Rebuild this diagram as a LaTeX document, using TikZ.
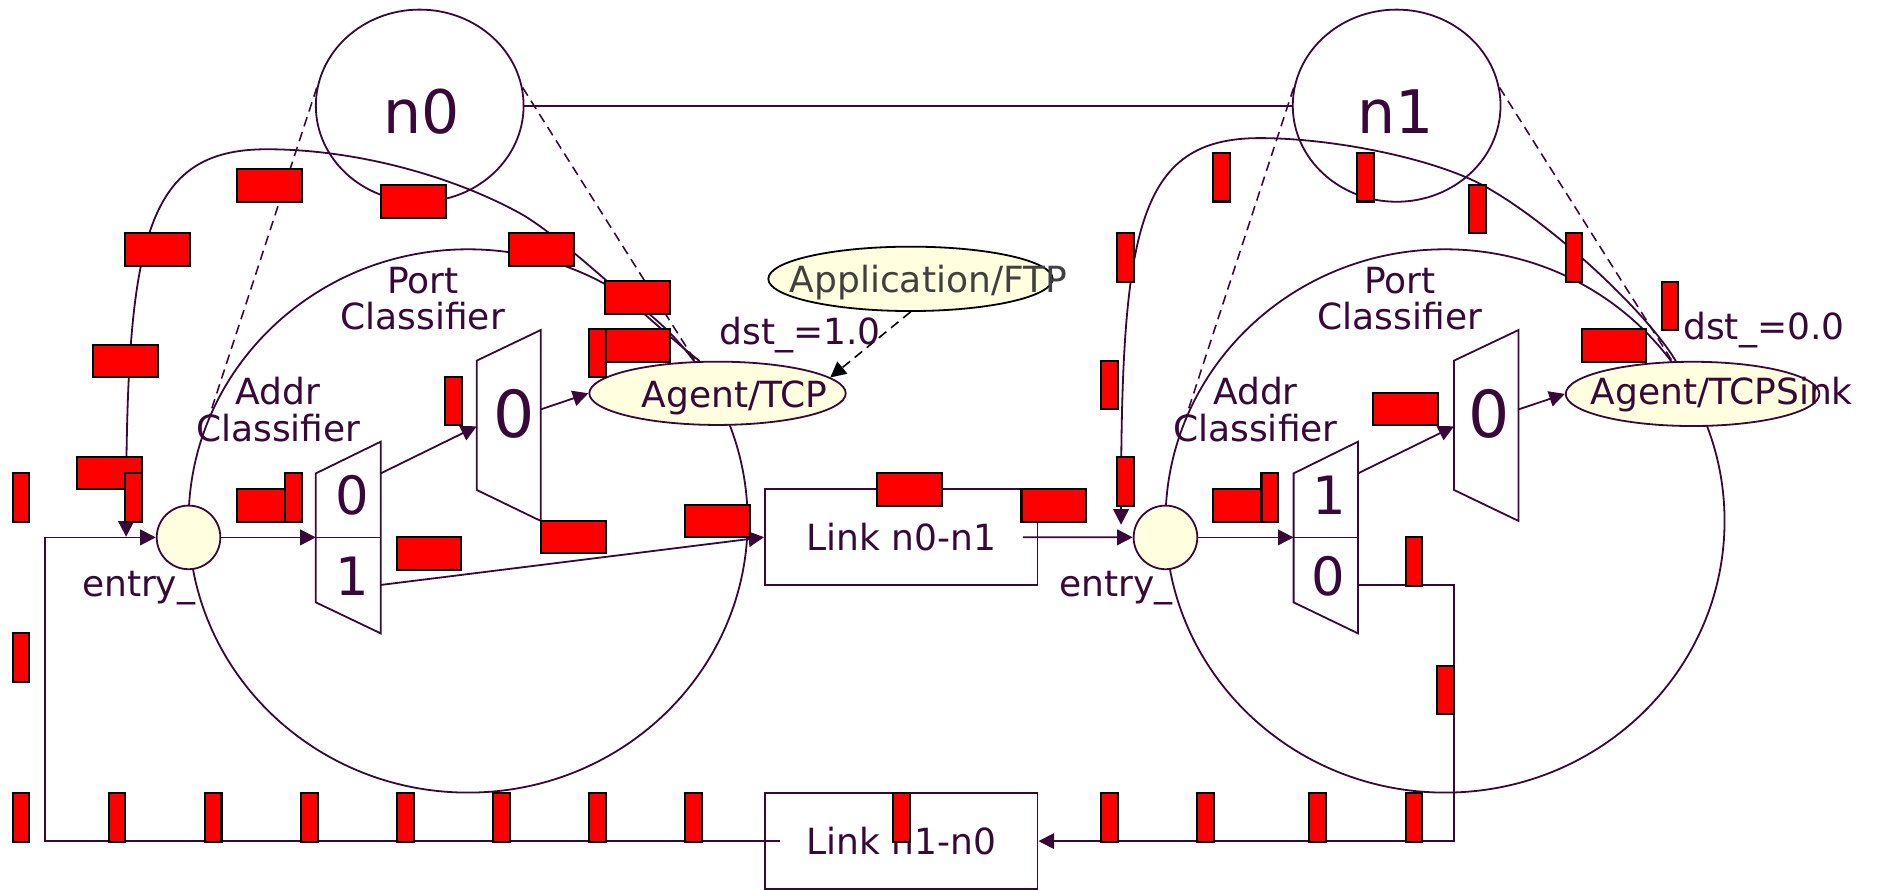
\documentclass[tikz,border=0pt]{standalone}
\usepackage{fontspec}
\setmainfont{DejaVu Sans}
\usetikzlibrary{shapes.geometric,arrows.meta}
\definecolor{ink}{HTML}{380838}
\definecolor{cream}{HTML}{FFFFE0}
\definecolor{pktred}{HTML}{FF0000}
\definecolor{ftpgray}{HTML}{404040}

\begin{document}
\begin{tikzpicture}[x=1pt,y=-1pt,color=ink,line width=1.5pt,
  >={Triangle[length=13pt,width=13pt]},
  lbl/.style={font=\fontsize{30}{30.5}\selectfont,inner sep=0pt},
  digit/.style={font=\fontsize{44}{44}\selectfont,inner sep=0pt},
  bigdigit/.style={font=\fontsize{54}{54}\selectfont,inner sep=0pt},
  nodename/.style={font=\fontsize{50}{50}\selectfont,inner sep=0pt},
  oval/.style={draw,ellipse,inner sep=0pt},
  bubble/.style={draw,ellipse,fill=cream,inner sep=0pt},
  entrydot/.style={draw,circle,fill=cream,minimum size=53pt,inner sep=0pt},
  linkbox/.style={draw,lbl,minimum width=227pt,minimum height=79.6pt},
  zoomline/.style={dash pattern=on 8pt off 5pt,line width=1.3pt},
  pktw/.style={draw=black,fill=pktred,line width=1.7pt,minimum width=53.8pt,minimum height=26.9pt,inner sep=0pt},
  pktn/.style={draw=black,fill=pktred,line width=1.7pt,minimum width=13.9pt,minimum height=40.2pt,inner sep=0pt},
]
\useasboundingbox (0,0) rectangle (1568,741);
% nodes and their insides
\node[oval,minimum width=173pt,minimum height=160pt] (n0) at (349.5,88) {};
\node[oval,minimum width=173pt,minimum height=160pt] (n1) at (1163,88) {};
\node[nodename,anchor=base] (n0txt) at (350.7,111) {n0};
\node[nodename,anchor=base] (n1txt) at (1162.5,111) {n1};
\node[oval,minimum width=465.5pt,minimum height=452.4pt] (pc0) at (389.8,433.8) {};
\node[oval,minimum width=465.5pt,minimum height=452.4pt] (pc1) at (1203.3,433.8) {};
% zoom lines
\draw[zoomline] (n0.170) -- (pc0.158);
\draw[zoomline] (n0.10) -- (pc0.35);
\draw[zoomline] (n1.170) -- (pc1.158);
\draw[zoomline] (n1.10) -- (pc1.35);
\draw (n0) -- (n1);
% classifiers
\draw (263,394.2) -- (317,367.8) -- (317,527.4) -- (263,501.6) -- cycle;
\draw (263,447.5) -- (317,447.5);
\draw (397,300.3) -- (450.3,274.8) -- (450.3,433.8) -- (397,408) -- cycle;
\draw (1077.2,394.2) -- (1130.8,367.8) -- (1130.8,527.4) -- (1077.2,501.6) -- cycle;
\draw (1077.2,447.5) -- (1130.8,447.5);
\draw (1210.8,300.3) -- (1264.5,274.8) -- (1264.5,433.8) -- (1210.8,408) -- cycle;
\coordinate (ac0in) at (263,447.5);
\coordinate (ac0o0) at (317,394.2);
\coordinate (ac0o1) at (317,487.1);
\coordinate (pt0in) at (397,355);
\coordinate (pt0o) at (450.3,340.9);
\coordinate (ac1in) at (1077.2,447.5);
\coordinate (ac1o1) at (1130.8,394.2);
\coordinate (ac1o0) at (1130.8,487.1);
\coordinate (pt1in) at (1210.8,355);
\coordinate (pt1o) at (1264.5,340.9);
\coordinate (ret0) at (37.5,447.5);
\coordinate (drop0) at (105,447);
\coordinate (drop1) at (933.5,437);
% entries, agents, links
\node[entrydot] (entry0) at (157,447.5) {};
\node[entrydot] (entry1) at (970.5,447.5) {};
\node[bubble,minimum width=213.5pt,minimum height=52.7pt] (agent0) at (597.5,327.5) {};
\node[bubble,minimum width=211.2pt,minimum height=53.5pt] (agent1) at (1409.4,328) {};
\node[bubble,draw=black,minimum width=236.8pt,minimum height=53.6pt] (app) at (758.2,232.2) {};
\node[linkbox] (link01) at (750.5,447.3) {Link n0-n1};
\node[linkbox] (link10) at (750.5,700.4) {Link n1-n0};
% packet paths
\draw[->] (entry0) -- (ac0in);
\draw[->] (ac0o0) -- (pt0in);
\draw[->] (pt0o) -- (agent0.west);
\draw[->] (ac0o1) -- (link01.west);
\draw[->] ([xshift=-13pt]link01.east) -- (entry1);
\draw[->] (entry1) -- (ac1in);
\draw[->] (ac1o1) -- (pt1in);
\draw[->] (pt1o) -- (agent1.west);
\draw[->] (ac1o0) -- ++(80,0) |- (link10.east);
\draw[->] ([xshift=13pt]link10.west) -| (ret0) -- (entry0);
\draw[->] (agent0.119) .. controls (550,276) and (470,198) .. (433,177.6)
  .. controls (380,148.4) and (300,124.3) .. (222,124.3)
  .. controls (120,124.3) and (105,200) .. (drop0);
\draw[->] (agent1.117) .. controls (1370,258) and (1290,185) .. (1237,155.5)
  .. controls (1195,132) and (1110,115) .. (1049,115)
  .. controls (947,115) and (933.5,191) .. (drop1);
\draw[black,zoomline,->] (app.south) -- (agent0.8);
% labels
\node[lbl,anchor=base] (agent0txt) at (611.6,339) {Agent/TCP};
\node[lbl,anchor=base] (agent1txt) at (1433.6,337) {Agent/TCPSink};
\node[lbl,anchor=base,text=ftpgray] (apptxt) at (773,243.7) {Application/FTP};
\node[lbl,anchor=base] (dst0) at (666.2,286.5) {dst\_=1.0};
\node[lbl,anchor=base] (dst1) at (1468.8,283.1) {dst\_=0.0};
\node[lbl,align=center] (pc0txt) at (352,248.8) {Port\\Classifier};
\node[lbl,align=center] (pc1txt) at (1165.6,248.8) {Port\\Classifier};
\node[lbl,align=center] (ac0txt) at (231.7,341.2) {Addr\\Classifier};
\node[lbl,align=center] (ac1txt) at (1045.4,341.2) {Addr\\Classifier};
\node[lbl,anchor=base] (entry0txt) at (115.5,496.5) {entry\_};
\node[lbl,anchor=base] (entry1txt) at (929.2,496.5) {entry\_};
\node[digit,anchor=base] (ac0d0) at (293.5,428.3) {0};
\node[digit,anchor=base] (ac0d1) at (293,495.5) {1};
\node[digit,anchor=base] (ac1d1) at (1106.8,428.8) {1};
\node[digit,anchor=base] (ac1d0) at (1106.5,495.5) {0};
\node[bigdigit,anchor=base] (pt0d) at (428,364) {0};
\node[bigdigit,anchor=base] (pt1d) at (1240.4,364) {0};
% packets
\foreach \x/\y [count=\i] in {224.2/154.4,344.2/167.7,131/207.8,450.7/207.8,530.7/247.7,530.7/287.7,104.4/300.8,91/394,224.2/421,357.3/460.9,477.5/447.3,597.4/434,757.4/407.7,877.5/421,1037.1/421,1170.4/340.7,1343.9/287.7}
  \node[pktw] (pw\i) at (\x,\y) {};
\foreach \x/\y [count=\i] in {17.5/414.3,111/414.3,244.3/414.3,377.5/333.8,497.5/294.2,17.5/547.5,1017/147.7,1137/147.7,1230.5/174.3,1310.6/214.4,1390.7/254.7,937.4/214.4,923.8/320.7,937.4/401,1057.4/414.3,1177.5/467.5,1203.6/574.5}
  \node[pktn] (pn\i) at (\x,\y) {};
\foreach \x [count=\i] in {17.5,97.5,177.5,257.5,337.5,417.5,497.5,577.5,750.8,924,1004,1097,1177.5}
  \node[pktn] (pb\i) at (\x,680.8) {};
\end{tikzpicture}
\end{document}
